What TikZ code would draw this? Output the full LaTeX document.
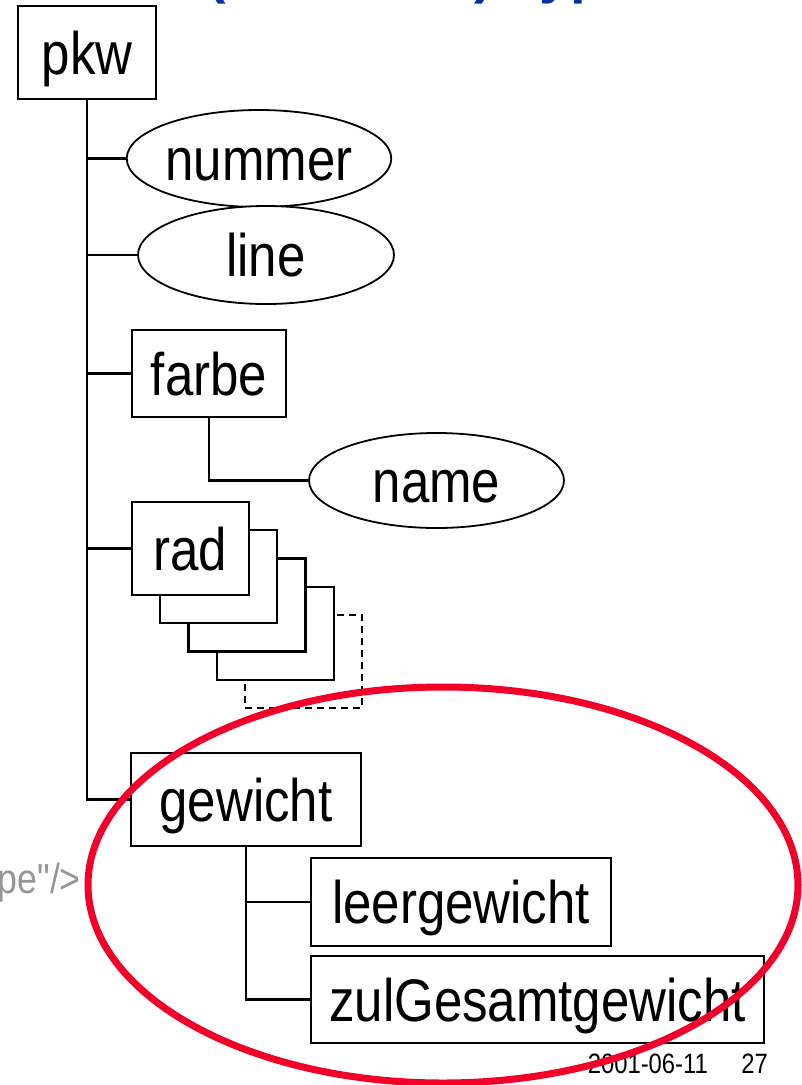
\documentclass[tikz,border=0pt]{standalone}
\usepackage{fontspec}
\setmainfont{Liberation Sans}[FakeStretch=0.85]
\newfontfamily\headfont{Liberation Sans}
\newfontfamily\codefont{Liberation Sans}[FakeStretch=0.85, Ligatures=TeXOff]
\usetikzlibrary{shapes.geometric}
\definecolor{headblue}{RGB}{0,51,160}
\definecolor{markred}{RGB}{242,0,42}
\definecolor{codegray}{RGB}{150,150,150}

\begin{document}
\begin{tikzpicture}[x=1pt,y=-1pt,
  lbl/.style={font=\fontsize{60}{60}\selectfont, inner sep=0pt,
              text height=43pt, text depth=0pt},
  elem/.style={lbl, rectangle, draw, line width=2.5pt, fill=white},
  attr/.style={lbl, ellipse, draw, line width=1.8pt, fill=white},
  copybox/.style={rectangle, draw, line width=2.5pt, fill=white,
                  minimum width=117, minimum height=93, inner sep=0pt},
  link/.style={line width=2.5pt},
  note/.style={inner sep=0pt, font=\fontsize{28}{28}\selectfont}
]
\useasboundingbox (0,0) rectangle (802,1085);
\clip (0,0) rectangle (802,1085);

% heading (only its descenders reach onto the page)
\node[anchor=base west, inner sep=0pt, text=headblue,
      font=\headfont\bfseries\fontsize{56}{56}\selectfont] (head) at (207,-8) {(benannte) Typen};

% code fragment at the left border
\node[anchor=base east, inner sep=0pt, text=codegray,
      font=\codefont\fontsize{42}{42}\selectfont] (code) at (81,893) {pe"/>};

% root element
\node[elem, minimum width=138, minimum height=93] (pkw) at (87,52.5) {pkw};

% attributes
\node[attr, minimum width=254, minimum height=97] (nummer) at (259,158.5) {nummer};
\node[attr, minimum width=256, minimum height=98] (line) at (266,255) {line};

% farbe with its attribute
\node[elem, minimum width=154, minimum height=87] (farbe) at (209,373.5) {farbe};
\node[attr, minimum width=255, minimum height=95] (name) at (436.5,480.5) {name};

% repeated element rad, drawn back to front
\node[copybox, dashed, dash pattern=on 7pt off 5pt] (rad5) at (303.5,661.5) {};
\node[copybox] (rad4) at (275.5,633.5) {};
\node[copybox] (rad3) at (247,605) {};
\node[copybox] (rad2) at (218.5,576.5) {};
\node[elem, minimum width=117, minimum height=93] (rad) at (190.5,548.5) {rad};

% gewicht and its children
\node[elem, minimum width=230, minimum height=93] (gewicht) at (246,799.5) {gewicht};
\node[elem, minimum width=300, minimum height=88] (leer) at (461,902) {leergewicht};
\node[elem, minimum width=453, minimum height=87] (zul) at (537.5,999.5) {zulGesamtgewicht};

% tree connectors
\draw[link] (pkw.south) |- (gewicht.west);
\draw[link] (pkw.south |- nummer.west) -- (nummer.west);
\draw[link] (pkw.south |- line.west) -- (line.west);
\draw[link] (pkw.south |- farbe.west) -- (farbe.west);
\draw[link] (pkw.south |- rad.west) -- (rad.west);
\draw[link] (farbe.south) |- (name.west);
\draw[link] (gewicht.south) |- (zul.west);
\draw[link] (gewicht.south |- leer.west) -- (leer.west);

% footer
\node[note, anchor=base east] (date) at (708,1073) {2001-06-11};
\node[note, anchor=base east] (page) at (768,1073) {27};

% highlight around the gewicht subtree
\draw[markred, line width=7pt] (443,885) ellipse [x radius=355pt, y radius=198pt];
\end{tikzpicture}
\end{document}
